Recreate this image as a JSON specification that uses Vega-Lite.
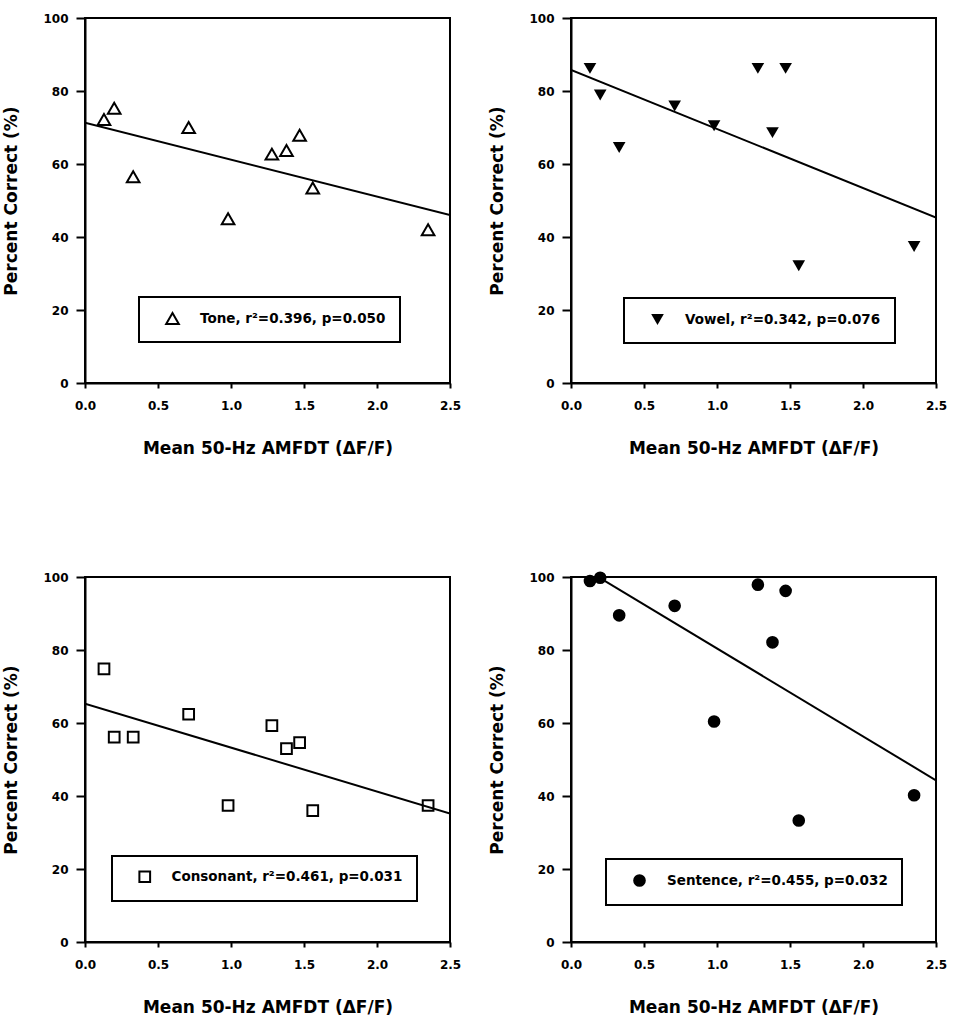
{
  "$schema": "https://vega.github.io/schema/vega-lite/v6.json",
  "padding": {"left": 1, "top": 11, "right": 5, "bottom": 5},
  "autosize": {"type": "pad"},
  "background": "white",
  "config": {
    "font": "DejaVu Sans",
    "view": {"stroke": "black", "strokeWidth": 2},
    "axis": {
      "grid": false,
      "domainColor": "black",
      "domainWidth": 2,
      "tickColor": "black",
      "tickWidth": 2,
      "labelFlush": false,
      "labelFont": "DejaVu Sans",
      "labelFontWeight": "bold",
      "labelFontSize": 12,
      "labelColor": "black",
      "titleFont": "DejaVu Sans",
      "titleFontWeight": "bold",
      "titleFontSize": 17,
      "titleColor": "black"
    },
    "axisX": {"tickSize": 5, "labelPadding": 12, "titlePadding": 29},
    "axisY": {"tickSize": 9, "labelPadding": 8, "titlePadding": 22},
    "legend": {
      "orient": "none",
      "strokeColor": "black",
      "strokeWidth": 2,
      "padding": 14,
      "symbolOffset": 12,
      "labelOffset": 20,
      "labelFont": "DejaVu Sans",
      "labelFontWeight": "bold",
      "labelFontSize": 13.5,
      "labelColor": "black",
      "labelLimit": 0,
      "symbolStrokeWidth": 2,
      "symbolStrokeColor": "black",
      "symbolOpacity": 1
    }
  },
  "datasets": {
    "tone": [
      {"amfdt": 0.13, "pct": 72.2, "label": "Tone, r²=0.396, p=0.050"},
      {"amfdt": 0.20, "pct": 75.3, "label": "Tone, r²=0.396, p=0.050"},
      {"amfdt": 0.33, "pct": 56.5, "label": "Tone, r²=0.396, p=0.050"},
      {"amfdt": 0.71, "pct": 70.0, "label": "Tone, r²=0.396, p=0.050"},
      {"amfdt": 0.98, "pct": 45.0, "label": "Tone, r²=0.396, p=0.050"},
      {"amfdt": 1.28, "pct": 62.7, "label": "Tone, r²=0.396, p=0.050"},
      {"amfdt": 1.38, "pct": 63.7, "label": "Tone, r²=0.396, p=0.050"},
      {"amfdt": 1.47, "pct": 67.9, "label": "Tone, r²=0.396, p=0.050"},
      {"amfdt": 1.56, "pct": 53.4, "label": "Tone, r²=0.396, p=0.050"},
      {"amfdt": 2.35, "pct": 42.0, "label": "Tone, r²=0.396, p=0.050"}
    ],
    "toneFit": [{"amfdt": 0, "pct": 71.3}, {"amfdt": 2.5, "pct": 46.0}],
    "vowel": [
      {"amfdt": 0.13, "pct": 86.2, "label": "Vowel, r²=0.342, p=0.076"},
      {"amfdt": 0.20, "pct": 78.9, "label": "Vowel, r²=0.342, p=0.076"},
      {"amfdt": 0.33, "pct": 64.5, "label": "Vowel, r²=0.342, p=0.076"},
      {"amfdt": 0.71, "pct": 75.9, "label": "Vowel, r²=0.342, p=0.076"},
      {"amfdt": 0.98, "pct": 70.5, "label": "Vowel, r²=0.342, p=0.076"},
      {"amfdt": 1.28, "pct": 86.2, "label": "Vowel, r²=0.342, p=0.076"},
      {"amfdt": 1.38, "pct": 68.6, "label": "Vowel, r²=0.342, p=0.076"},
      {"amfdt": 1.47, "pct": 86.2, "label": "Vowel, r²=0.342, p=0.076"},
      {"amfdt": 1.56, "pct": 32.1, "label": "Vowel, r²=0.342, p=0.076"},
      {"amfdt": 2.35, "pct": 37.4, "label": "Vowel, r²=0.342, p=0.076"}
    ],
    "vowelFit": [{"amfdt": 0, "pct": 85.8}, {"amfdt": 2.5, "pct": 45.3}],
    "consonant": [
      {"amfdt": 0.13, "pct": 74.8, "label": "Consonant, r²=0.461, p=0.031"},
      {"amfdt": 0.20, "pct": 56.1, "label": "Consonant, r²=0.461, p=0.031"},
      {"amfdt": 0.33, "pct": 56.1, "label": "Consonant, r²=0.461, p=0.031"},
      {"amfdt": 0.71, "pct": 62.4, "label": "Consonant, r²=0.461, p=0.031"},
      {"amfdt": 0.98, "pct": 37.4, "label": "Consonant, r²=0.461, p=0.031"},
      {"amfdt": 1.28, "pct": 59.3, "label": "Consonant, r²=0.461, p=0.031"},
      {"amfdt": 1.38, "pct": 53.0, "label": "Consonant, r²=0.461, p=0.031"},
      {"amfdt": 1.47, "pct": 54.6, "label": "Consonant, r²=0.461, p=0.031"},
      {"amfdt": 1.56, "pct": 36.0, "label": "Consonant, r²=0.461, p=0.031"},
      {"amfdt": 2.35, "pct": 37.4, "label": "Consonant, r²=0.461, p=0.031"}
    ],
    "consonantFit": [{"amfdt": 0, "pct": 65.3}, {"amfdt": 2.5, "pct": 35.2}],
    "sentence": [
      {"amfdt": 0.13, "pct": 98.9, "label": "Sentence, r²=0.455, p=0.032"},
      {"amfdt": 0.20, "pct": 99.8, "label": "Sentence, r²=0.455, p=0.032"},
      {"amfdt": 0.33, "pct": 89.5, "label": "Sentence, r²=0.455, p=0.032"},
      {"amfdt": 0.71, "pct": 92.1, "label": "Sentence, r²=0.455, p=0.032"},
      {"amfdt": 0.98, "pct": 60.4, "label": "Sentence, r²=0.455, p=0.032"},
      {"amfdt": 1.28, "pct": 97.9, "label": "Sentence, r²=0.455, p=0.032"},
      {"amfdt": 1.38, "pct": 82.1, "label": "Sentence, r²=0.455, p=0.032"},
      {"amfdt": 1.47, "pct": 96.2, "label": "Sentence, r²=0.455, p=0.032"},
      {"amfdt": 1.56, "pct": 33.3, "label": "Sentence, r²=0.455, p=0.032"},
      {"amfdt": 2.35, "pct": 40.2, "label": "Sentence, r²=0.455, p=0.032"}
    ],
    "sentenceFit": [{"amfdt": 0, "pct": 104.5}, {"amfdt": 2.5, "pct": 44.3}]
  },
  "columns": 2,
  "spacing": {"row": 194, "column": 121},
  "bounds": "flush",
  "resolve": {
    "scale": {"shape": "independent", "x": "independent", "y": "independent"},
    "legend": {"shape": "independent"}
  },
  "concat": [
    {
      "width": 365, "height": 365,
      "encoding": {
        "x": {"field": "amfdt", "type": "quantitative", "title": "Mean 50-Hz AMFDT (ΔF/F)",
              "scale": {"domain": [0, 2.5], "nice": false, "zero": false},
              "axis": {"values": [0, 0.5, 1, 1.5, 2, 2.5], "format": ".1f"}},
        "y": {"field": "pct", "type": "quantitative", "title": "Percent Correct (%)",
              "scale": {"domain": [0, 100], "nice": false},
              "axis": {"values": [0, 20, 40, 60, 80, 100]}}
      },
      "layer": [
        {"data": {"name": "toneFit"}, "mark": {"type": "line", "color": "black", "strokeWidth": 2, "clip": true}},
        {"data": {"name": "tone"},
         "mark": {"type": "point", "filled": false, "color": "black", "opacity": 1, "strokeWidth": 2, "size": 160},
         "encoding": {"shape": {"field": "label", "type": "nominal",
           "scale": {"range": ["triangle-up"]},
           "legend": {"title": null, "legendX": 54, "legendY": 279, "symbolSize": 160, "symbolFillColor": "white"}}}}
      ]
    },
    {
      "width": 365, "height": 365,
      "encoding": {
        "x": {"field": "amfdt", "type": "quantitative", "title": "Mean 50-Hz AMFDT (ΔF/F)",
              "scale": {"domain": [0, 2.5], "nice": false, "zero": false},
              "axis": {"values": [0, 0.5, 1, 1.5, 2, 2.5], "format": ".1f"}},
        "y": {"field": "pct", "type": "quantitative", "title": "Percent Correct (%)",
              "scale": {"domain": [0, 100], "nice": false},
              "axis": {"values": [0, 20, 40, 60, 80, 100]}}
      },
      "layer": [
        {"data": {"name": "vowelFit"}, "mark": {"type": "line", "color": "black", "strokeWidth": 2, "clip": true}},
        {"data": {"name": "vowel"},
         "mark": {"type": "point", "filled": true, "color": "black", "opacity": 1, "size": 160},
         "encoding": {"shape": {"field": "label", "type": "nominal",
           "scale": {"range": ["triangle-down"]},
           "legend": {"title": null, "legendX": 53, "legendY": 280, "symbolSize": 160, "symbolFillColor": "black"}}}}
      ]
    },
    {
      "width": 365, "height": 365,
      "encoding": {
        "x": {"field": "amfdt", "type": "quantitative", "title": "Mean 50-Hz AMFDT (ΔF/F)",
              "scale": {"domain": [0, 2.5], "nice": false, "zero": false},
              "axis": {"values": [0, 0.5, 1, 1.5, 2, 2.5], "format": ".1f"}},
        "y": {"field": "pct", "type": "quantitative", "title": "Percent Correct (%)",
              "scale": {"domain": [0, 100], "nice": false},
              "axis": {"values": [0, 20, 40, 60, 80, 100]}}
      },
      "layer": [
        {"data": {"name": "consonantFit"}, "mark": {"type": "line", "color": "black", "strokeWidth": 2, "clip": true}},
        {"data": {"name": "consonant"},
         "mark": {"type": "point", "filled": false, "color": "black", "opacity": 1, "strokeWidth": 2, "size": 115},
         "encoding": {"shape": {"field": "label", "type": "nominal",
           "scale": {"range": ["square"]},
           "legend": {"title": null, "legendX": 27, "legendY": 279, "symbolSize": 115, "symbolFillColor": "white"}}}}
      ]
    },
    {
      "width": 365, "height": 365,
      "encoding": {
        "x": {"field": "amfdt", "type": "quantitative", "title": "Mean 50-Hz AMFDT (ΔF/F)",
              "scale": {"domain": [0, 2.5], "nice": false, "zero": false},
              "axis": {"values": [0, 0.5, 1, 1.5, 2, 2.5], "format": ".1f"}},
        "y": {"field": "pct", "type": "quantitative", "title": "Percent Correct (%)",
              "scale": {"domain": [0, 100], "nice": false},
              "axis": {"values": [0, 20, 40, 60, 80, 100]}}
      },
      "layer": [
        {"data": {"name": "sentenceFit"}, "mark": {"type": "line", "color": "black", "strokeWidth": 2, "clip": true}},
        {"data": {"name": "sentence"},
         "mark": {"type": "point", "filled": true, "color": "black", "opacity": 1, "size": 160},
         "encoding": {"shape": {"field": "label", "type": "nominal",
           "scale": {"range": ["circle"]},
           "legend": {"title": null, "legendX": 35, "legendY": 282, "symbolSize": 160, "symbolFillColor": "black"}}}}
      ]
    }
  ]
}
